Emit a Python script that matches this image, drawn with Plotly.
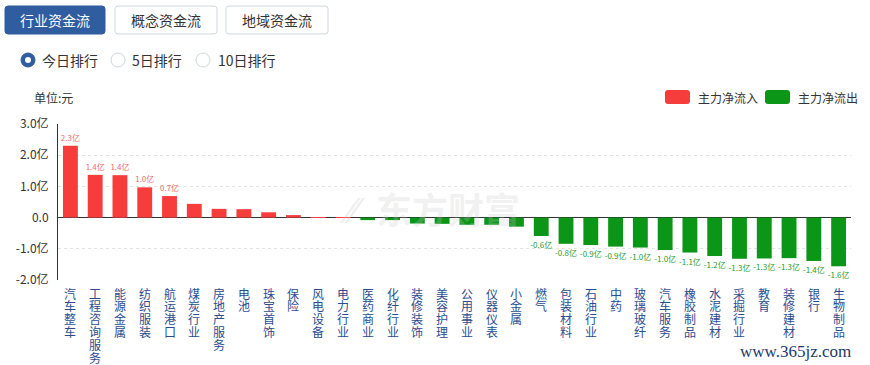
import plotly.graph_objects as go

categories = ["汽车整车", "工程咨询服务", "能源金属", "纺织服装", "航运港口", "煤炭行业", "房地产服务", "电池",
              "珠宝首饰", "保险", "风电设备", "电力行业", "医药商业", "化纤行业", "装修装饰", "美容护理",
              "公用事业", "仪器仪表", "小金属", "燃气", "包装材料", "石油行业", "中药", "玻璃玻纤",
              "汽车服务", "橡胶制品", "水泥建材", "采掘行业", "教育", "装修建材", "银行", "生物制品"]
values = [2.30, 1.37, 1.36, 0.97, 0.69, 0.44, 0.28, 0.27,
          0.17, 0.08, 0.012, 0.006, -0.08, -0.08, -0.19, -0.20,
          -0.23, -0.23, -0.29, -0.59, -0.84, -0.88, -0.93, -0.96,
          -1.04, -1.12, -1.23, -1.32, -1.31, -1.30, -1.39, -1.56]
y_tickvals = [3, 2, 1, 0, -1, -2]
y_ticktext = ["3.0亿", "2.0亿", "1.0亿", "0.0", "-1.0亿", "-2.0亿"]
tabs = ["行业资金流", "概念资金流", "地域资金流"]
radios = ["今日排行", "5日排行", "10日排行"]
legend_names = ["主力净流入", "主力净流出"]

RED = "#f73c3c"
GREEN = "#0b9618"
BLUE = "#2f5d9f"
FONT = "Noto Sans CJK SC, Noto Sans, sans-serif"

W, H = 870, 365
L, R, T, B = 58, 19, 124, 85
PW, PH = W - L - R, H - T - B


def px(x):
    return (x - L) / PW


def py(y):
    return (H - B - y) / PH


def rrect(x0, y0, x1, y1, r):
    pts = [("M", [(x0 + r, y0)]), ("L", [(x1 - r, y0)]), ("Q", [(x1, y0), (x1, y0 + r)]),
           ("L", [(x1, y1 - r)]), ("Q", [(x1, y1), (x1 - r, y1)]), ("L", [(x0 + r, y1)]),
           ("Q", [(x0, y1), (x0, y1 - r)]), ("L", [(x0, y0 + r)]), ("Q", [(x0, y0), (x0 + r, y0)])]
    s = ""
    for cmd, ps in pts:
        s += cmd + " " + " ".join(f"{px(a):.5f},{py(b):.5f}" for a, b in ps) + " "
    return s + "Z"


colors = [RED if v >= 0 else GREEN for v in values]
text_colors = ["#f06a6a" if v >= 0 else "#22a02c" for v in values]
labels = [f"{v:.1f}亿" if abs(v) >= 0.5 else "" for v in values]

fig = go.Figure()
fig.add_trace(go.Bar(
    x=categories, y=values, marker=dict(color=colors, line=dict(width=0)),
    text=labels, textposition="outside", constraintext="none", cliponaxis=False,
    textfont=dict(size=8, color=text_colors, family=FONT), hoverinfo="x+y", showlegend=False,
))

shapes = []
annotations = []

# tabs
tab_x = [(5, 105), (115, 217), (226, 328)]
for i, (name, (x0, x1)) in enumerate(zip(tabs, tab_x)):
    sel = i == 0
    shapes.append(dict(type="path", xref="paper", yref="paper", path=rrect(x0, 6, x1, 34, 3),
                       fillcolor=BLUE if sel else "white",
                       line=dict(color=BLUE if sel else "#cfd6df", width=1)))
    annotations.append(dict(xref="paper", yref="paper", x=px((x0 + x1) / 2), y=py(20.5),
                            text=name, showarrow=False, xanchor="center", yanchor="middle",
                            font=dict(size=14, color="white" if sel else "#333", family=FONT)))

# radios
radio_pos = [(28, 40), (118, 130), (203, 216)]
for i, (name, (cx, tx)) in enumerate(zip(radios, radio_pos)):
    cy = 60
    if i == 0:
        shapes.append(dict(type="circle", xref="paper", yref="paper",
                           x0=px(cx - 7), x1=px(cx + 7), y0=py(cy + 7), y1=py(cy - 7),
                           fillcolor=BLUE, line=dict(color=BLUE, width=1)))
        shapes.append(dict(type="circle", xref="paper", yref="paper",
                           x0=px(cx - 3), x1=px(cx + 3), y0=py(cy + 3), y1=py(cy - 3),
                           fillcolor="white", line=dict(color="white", width=0)))
    else:
        shapes.append(dict(type="circle", xref="paper", yref="paper",
                           x0=px(cx - 7), x1=px(cx + 7), y0=py(cy + 7), y1=py(cy - 7),
                           fillcolor="white", line=dict(color="#cfd6df", width=1)))
    annotations.append(dict(xref="paper", yref="paper", x=px(tx), y=py(cy), text=name,
                            showarrow=False, xanchor="left", yanchor="middle",
                            font=dict(size=14, color="#333", family=FONT)))

# unit
annotations.append(dict(xref="paper", yref="paper", x=px(32), y=py(97), text="单位:元",
                        showarrow=False, xanchor="left", yanchor="middle",
                        font=dict(size=12, color="#333", family=FONT)))

# legend
leg = [(665, 696, RED), (765, 796, GREEN)]
for name, (x0, tx, c) in zip(legend_names, leg):
    shapes.append(dict(type="path", xref="paper", yref="paper", path=rrect(x0, 90, x0 + 25, 104, 3),
                       fillcolor=c, line=dict(color=c, width=0)))
    annotations.append(dict(xref="paper", yref="paper", x=px(tx), y=py(97), text=name,
                            showarrow=False, xanchor="left", yanchor="middle",
                            font=dict(size=12, color="#333", family=FONT)))

# watermark
annotations.append(dict(xref="paper", yref="paper", x=px(352), y=py(208), text="<i>⁄⁄</i>",
                        showarrow=False, xanchor="center", yanchor="middle",
                        font=dict(size=34, color="rgba(200,200,200,0.3)", family=FONT)))
annotations.append(dict(xref="paper", yref="paper", x=px(448), y=py(208), text="<b>东方财富</b>",
                        showarrow=False, xanchor="center", yanchor="middle",
                        font=dict(size=36, color="rgba(200,200,200,0.25)", family=FONT)))

# vertical x labels
for cat in categories:
    for j, ch in enumerate(cat):
        annotations.append(dict(xref="x", yref="paper", x=cat, y=0, yshift=-(13 + 12.8 * j),
                                text=ch, showarrow=False, xanchor="center", yanchor="middle",
                                font=dict(size=12, color="#2b4c8f", family=FONT)))

annotations.append(dict(xref="paper", yref="paper", x=px(853), y=py(351), text="www.365jz.com",
                        showarrow=False, xanchor="right", yanchor="middle",
                        font=dict(size=17, color="#223a6b", family="Liberation Serif, serif")))

fig.update_layout(
    width=W, height=H, margin=dict(l=L, r=R, t=T, b=B, autoexpand=False),
    paper_bgcolor="white", plot_bgcolor="white", bargap=0.4,
    font=dict(family=FONT, size=12, color="#333"),
    shapes=shapes, annotations=annotations, showlegend=False,
    xaxis=dict(type="category", range=[-0.5, len(categories) - 0.5], showticklabels=False,
               showgrid=False, zeroline=False, showline=False, ticks="", fixedrange=True),
    yaxis=dict(range=[-2, 3], tickvals=y_tickvals, ticktext=y_ticktext, showgrid=True,
               gridcolor="#e3e3e3", griddash="dot", gridwidth=1, zeroline=True,
               zerolinecolor="#333", zerolinewidth=1, showline=True, linecolor="#333",
               linewidth=1, ticks="", ticklabelstandoff=6, fixedrange=True,
               tickfont=dict(size=12, color="#333", family=FONT)),
)

fig.write_html("out.html", config={"displayModeBar": False},
               post_script="document.body.style.margin='0';document.body.style.overflow='hidden';")
